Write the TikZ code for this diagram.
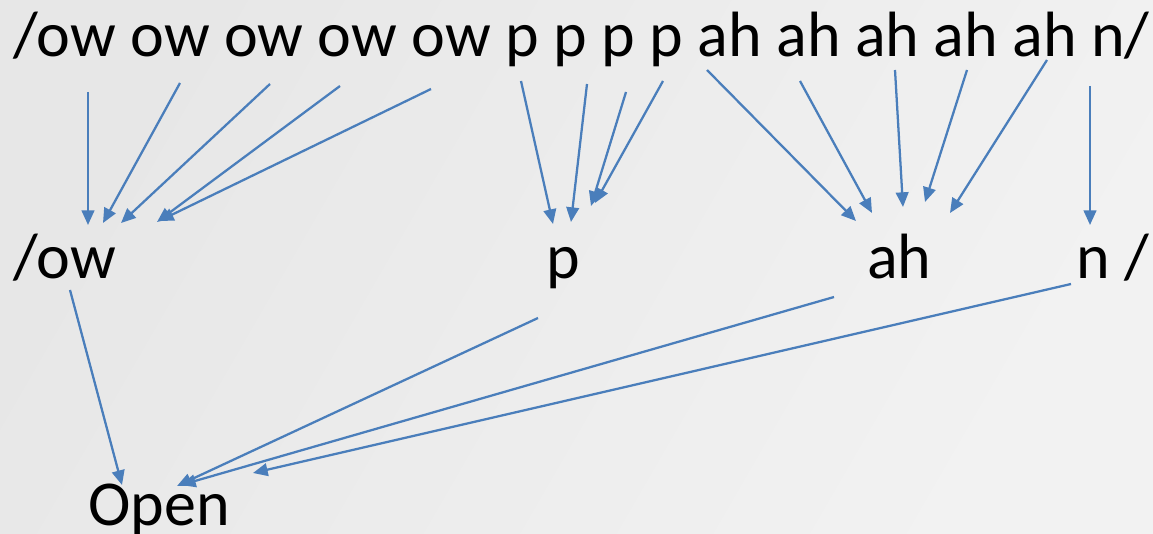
\documentclass[tikz,border=0pt]{standalone}
\usepackage{fontspec}
\setmainfont{Carlito}
\usetikzlibrary{arrows.meta}
\definecolor{bgdark}{HTML}{E7E7E7}
\definecolor{bglight}{HTML}{F2F2F2}
\definecolor{linkblue}{HTML}{4A7EBB}
\tikzset{
  word/.style={inner sep=0pt, anchor=base west, font=\fontsize{48}{56}\selectfont},
  link/.style={draw=linkblue, line width=1.7pt,
    -{Triangle[length=11pt, width=9.5pt]}},
}
\begin{document}
\begin{tikzpicture}[x=0.75pt, y=-0.75pt]
  % soft grey background, a little lighter towards the upper right
  \shade[left color=bgdark, right color=bglight, shading angle=60]
    (0,0) rectangle (1153,534);
  \useasboundingbox (0,0) rectangle (1153,534);

  % frame-level sequence
  \node[word] (frames) at (13,57) {/ow ow ow ow ow p p p p ah ah ah ah ah n/};

  % phone level
  \node[word] (ow) at (13,279) {/ow};
  \node[word] (p)  at (546,279) {p};
  \node[word] (ah) at (867,279) {ah};
  \node[word] (n)  at (1076,279) {n /};

  % word level
  \node[word] (open) at (88,525) {Open};

  % arrow starts under the frame labels
  \coordinate (f1) at (88,92);
  \coordinate (f2) at (180,83);
  \coordinate (f3) at (270,84);
  \coordinate (f4) at (340,86);
  \coordinate (f5) at (431,89);
  \coordinate (f6) at (521,81);
  \coordinate (f7) at (587,84);
  \coordinate (f8) at (626,92);
  \coordinate (f9) at (663,81);
  \coordinate (f10) at (707,70);
  \coordinate (f11) at (800,81);
  \coordinate (f12) at (895,70);
  \coordinate (f13) at (967,70);
  \coordinate (f14) at (1047,60);
  \coordinate (f15) at (1090,86);

  % arrow tips above the phone labels
  \coordinate (ow1) at (88,225);
  \coordinate (ow2) at (103,223);
  \coordinate (ow3) at (121,223);
  \coordinate (ow4) at (157,222);
  \coordinate (ow5) at (159,221);
  \coordinate (p1) at (553,224);
  \coordinate (p2) at (571,222);
  \coordinate (p3) at (591,206);
  \coordinate (p4) at (595,203);
  \coordinate (ah1) at (856,221);
  \coordinate (ah2) at (872,213);
  \coordinate (ah3) at (903,207);
  \coordinate (ah4) at (925,202);
  \coordinate (ah5) at (950,213);
  \coordinate (n1) at (1090,225);

  % arrows between phone and word level
  \coordinate (ows) at (70,290);
  \coordinate (ps) at (538,318);
  \coordinate (ahs) at (834,297);
  \coordinate (ns) at (1071,284);
  \coordinate (o1) at (122,485);
  \coordinate (o2) at (177,486);
  \coordinate (o3) at (181,485);
  \coordinate (o4) at (253,473);

  \draw[link] (f1) -- (ow1);
  \draw[link] (f2) -- (ow2);
  \draw[link] (f3) -- (ow3);
  \draw[link] (f4) -- (ow4);
  \draw[link] (f5) -- (ow5);
  \draw[link] (f6) -- (p1);
  \draw[link] (f7) -- (p2);
  \draw[link] (f8) -- (p3);
  \draw[link] (f9) -- (p4);
  \draw[link] (f10) -- (ah1);
  \draw[link] (f11) -- (ah2);
  \draw[link] (f12) -- (ah3);
  \draw[link] (f13) -- (ah4);
  \draw[link] (f14) -- (ah5);
  \draw[link] (f15) -- (n1);

  \draw[link] (ows) -- (o1);
  \draw[link] (ps) -- (o2);
  \draw[link] (ahs) -- (o3);
  \draw[link] (ns) -- (o4);
\end{tikzpicture}
\end{document}
